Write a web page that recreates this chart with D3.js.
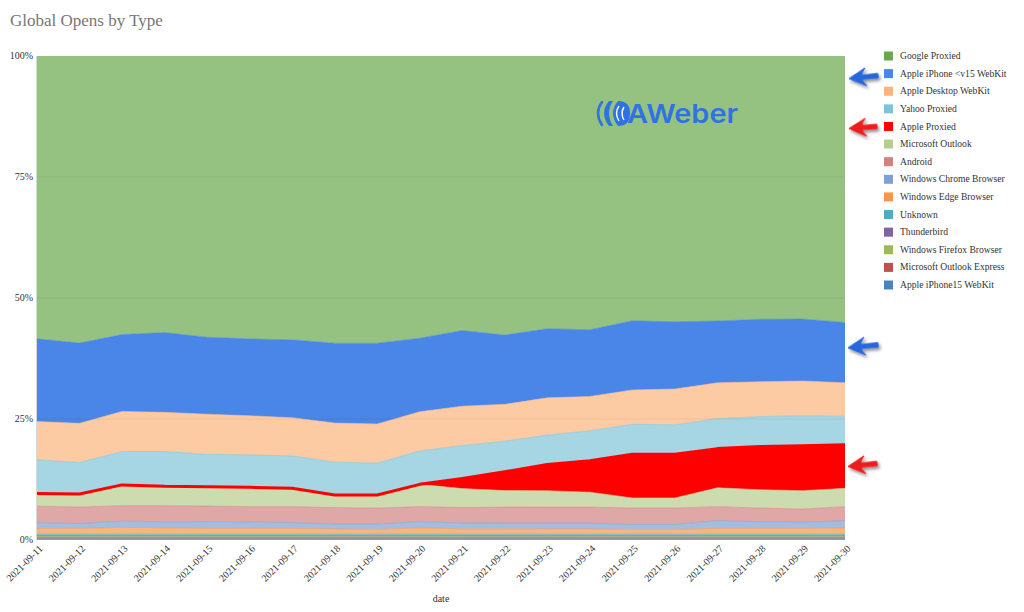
<!DOCTYPE html>
<html>
<head>
<meta charset="utf-8">
<script src="https://cdn.jsdelivr.net/npm/d3@7"></script>
<style>
  body { margin: 0; background: #fff; }
  svg text { font-family: "Liberation Serif", "DejaVu Serif", serif; }
</style>
</head>
<body>
<div id="chart"></div>
<script>
'use strict';

// ---------------------------------------------------------------
// data (percent of opens per day)
// ---------------------------------------------------------------
var dates = ["2021-09-11", "2021-09-12", "2021-09-13", "2021-09-14", "2021-09-15",
  "2021-09-16", "2021-09-17", "2021-09-18", "2021-09-19", "2021-09-20",
  "2021-09-21", "2021-09-22", "2021-09-23", "2021-09-24", "2021-09-25",
  "2021-09-26", "2021-09-27", "2021-09-28", "2021-09-29", "2021-09-30"];

var googleProxied   = [58.5, 59.3, 57.6, 57.2, 58.1, 58.5, 58.7, 59.4, 59.4, 58.3, 56.6, 57.6, 56.4, 56.6, 54.7, 54.9, 54.8, 54.4, 54.4, 55.1];
var iphoneV15       = [17.1, 16.6, 15.9, 16.5, 15.9, 15.9, 16.1, 16.5, 16.7, 15.2, 15.6, 14.3, 14.3, 13.8, 14.3, 13.9, 12.8, 12.9, 12.8, 12.5];
var desktopWebkit   = [7.9, 8.1, 8.3, 8.1, 8.3, 8.1, 7.9, 8.1, 8.1, 8.1, 8.1, 7.6, 7.7, 7.1, 7.1, 7.4, 7.4, 7.2, 7.2, 6.9];
var yahooProxied    = [7.0, 6.5, 6.9, 7.2, 6.7, 6.7, 6.7, 6.8, 6.6, 6.9, 6.8, 6.3, 6.1, 6.2, 6.2, 6.1, 6.2, 6.2, 6.2, 5.9];
var appleProxied    = [0, 0, 0, 0, 0, 0, 0, 0, 0, 0, 2.1, 3.9, 5.4, 6.5, 9.0, 9.0, 8.1, 8.9, 9.3, 9.0];
var msOutlook       = [2.6, 2.7, 4.3, 4.0, 4.0, 4.0, 3.8, 2.6, 2.7, 4.6, 3.9, 3.4, 3.4, 3.1, 2.1, 2.1, 3.9, 3.8, 3.8, 3.8];
var android         = [3.4, 3.4, 3.2, 3.3, 3.2, 3.2, 3.3, 3.4, 3.3, 3.1, 3.2, 3.3, 3.3, 3.3, 3.4, 3.4, 2.9, 2.8, 2.7, 2.9];
var chromeBrowser   = [1.2, 1.0, 1.3, 1.3, 1.4, 1.3, 1.2, 1.0, 1.1, 1.3, 1.2, 1.2, 1.2, 1.2, 1.0, 1.0, 1.6, 1.4, 1.3, 1.5];
var edgeBrowser     = [1.2, 1.2, 1.4, 1.3, 1.2, 1.2, 1.2, 1.1, 1.0, 1.3, 1.1, 1.1, 1.1, 1.1, 1.0, 1.0, 1.2, 1.2, 1.2, 1.3];
var unknown         = [0.3, 0.3, 0.3, 0.3, 0.3, 0.3, 0.3, 0.3, 0.3, 0.3, 0.3, 0.3, 0.3, 0.3, 0.3, 0.3, 0.3, 0.3, 0.3, 0.3];
var thunderbird     = [0.2, 0.2, 0.2, 0.2, 0.2, 0.2, 0.2, 0.2, 0.2, 0.2, 0.2, 0.2, 0.2, 0.2, 0.2, 0.2, 0.2, 0.2, 0.2, 0.2];
var firefoxBrowser  = [0.2, 0.2, 0.2, 0.2, 0.2, 0.2, 0.2, 0.2, 0.2, 0.2, 0.2, 0.2, 0.2, 0.2, 0.2, 0.2, 0.2, 0.2, 0.2, 0.2];
var outlookExpress  = [0.25, 0.25, 0.25, 0.25, 0.25, 0.25, 0.25, 0.25, 0.25, 0.25, 0.25, 0.25, 0.25, 0.25, 0.25, 0.25, 0.25, 0.25, 0.25, 0.25];
var iphone15        = [0.25, 0.25, 0.25, 0.25, 0.25, 0.25, 0.25, 0.25, 0.25, 0.25, 0.25, 0.25, 0.25, 0.25, 0.25, 0.25, 0.25, 0.25, 0.25, 0.25];

// legend order (top of the stack first)
var seriesNames = ["Google Proxied", "Apple iPhone <v15 WebKit", "Apple Desktop WebKit",
  "Yahoo Proxied", "Apple Proxied", "Microsoft Outlook", "Android",
  "Windows Chrome Browser", "Windows Edge Browser", "Unknown", "Thunderbird",
  "Windows Firefox Browser", "Microsoft Outlook Express", "Apple iPhone15 WebKit"];
var seriesValues = [googleProxied, iphoneV15, desktopWebkit, yahooProxied, appleProxied,
  msOutlook, android, chromeBrowser, edgeBrowser, unknown, thunderbird,
  firefoxBrowser, outlookExpress, iphone15];
var yTicks = [0, 0.25, 0.5, 0.75, 1];

// ---------------------------------------------------------------
// styles
// ---------------------------------------------------------------
var colors = ["#6aa84c", "#4a86e8", "#fbb57c", "#80c3d7", "#ff0000", "#b8cd8d", "#d38181",
  "#7ca1d3", "#f79646", "#4bacc6", "#8064a2", "#9bbb59", "#c0504d", "#4f81bd"];
var highlighted = ["Apple iPhone <v15 WebKit", "Apple Proxied"];

var W = 1024, H = 612;
var plotLeft = 37, plotRight = 845, plotTop = 56, plotBottom = 540;

// build rows for the stack
var rows = dates.map(function(d, i) {
  var row = { date: d };
  seriesNames.forEach(function(name, k) { row[name] = seriesValues[k][i]; });
  return row;
});

var stackKeys = seriesNames.slice().reverse(); // bottom of the stack first
var stacked = d3.stack()
  .keys(stackKeys)
  .order(d3.stackOrderNone)
  .offset(d3.stackOffsetExpand)(rows);

var color = d3.scaleOrdinal().domain(seriesNames).range(colors);

var x = d3.scalePoint().domain(dates).range([plotLeft, plotRight]);
var y = d3.scaleLinear().domain([0, 1]).range([plotBottom, plotTop]);

var svg = d3.select("#chart").append("svg")
  .attr("width", W)
  .attr("height", H);

var defs = svg.append("defs");
var shadow = defs.append("filter").attr("id", "shadow")
  .attr("x", "-30%").attr("y", "-30%").attr("width", "160%").attr("height", "180%");
shadow.append("feDropShadow")
  .attr("dx", 1.5).attr("dy", 2.5).attr("stdDeviation", 1.5)
  .attr("flood-color", "#000").attr("flood-opacity", 0.45);

// title
svg.append("text")
  .attr("x", 10)
  .attr("y", 26)
  .style("font-size", "17px")
  .style("fill", "#777")
  .text("Global Opens by Type");

// areas
var area = d3.area()
  .x(function(d) { return x(d.data.date); })
  .y0(function(d) { return y(d[0]); })
  .y1(function(d) { return y(d[1]); });

var topLine = d3.line()
  .x(function(d) { return x(d.data.date); })
  .y(function(d) { return y(d[1]); });

svg.append("g").selectAll("path")
  .data(stacked)
  .enter().append("path")
  .attr("d", area)
  .style("fill", function(s) { return color(s.key); })
  .style("fill-opacity", function(s) { return highlighted.indexOf(s.key) >= 0 ? 1 : 0.7; });

// thin edge on top of each layer
svg.append("g").selectAll("path")
  .data(stacked.filter(function(s) { return s.key !== "Google Proxied"; }))
  .enter().append("path")
  .attr("d", topLine)
  .style("fill", "none")
  .style("stroke", function(s) { return color(s.key); })
  .style("stroke-opacity", function(s) { return s.key === "Apple Proxied" ? 1 : 0.55; })
  .style("stroke-width", function(s) { return s.key === "Apple Proxied" ? 3 : 1; })
  .style("stroke-linejoin", "round");

// faint grid lines
svg.append("g").selectAll("line")
  .data(yTicks.filter(function(t) { return t > 0 && t < 1; }))
  .enter().append("line")
  .attr("x1", plotLeft).attr("x2", plotRight)
  .attr("y1", function(t) { return y(t); })
  .attr("y2", function(t) { return y(t); })
  .style("stroke", "#000")
  .style("stroke-opacity", 0.06);

// left edge of the plot
svg.append("line")
  .attr("x1", plotLeft - 0.5).attr("x2", plotLeft - 0.5)
  .attr("y1", plotTop).attr("y2", plotBottom)
  .style("stroke", "#d8d8d8");

// y axis labels
svg.append("g").selectAll("text")
  .data(yTicks)
  .enter().append("text")
  .attr("x", plotLeft - 4)
  .attr("y", function(t) { return y(t); })
  .attr("dy", "0.32em")
  .attr("text-anchor", "end")
  .style("font-size", "10px")
  .style("fill", "#333")
  .text(d3.format(".0%"));

// x axis labels
svg.append("g").selectAll("text")
  .data(dates)
  .enter().append("text")
  .attr("transform", function(d) { return "translate(" + (x(d) + 4) + "," + (plotBottom + 7) + ") rotate(-45)"; })
  .attr("text-anchor", "end")
  .attr("dy", "0.32em")
  .style("font-size", "10px")
  .style("fill", "#333")
  .text(function(d) { return d; });

svg.append("text")
  .attr("x", (plotLeft + plotRight) / 2)
  .attr("y", 602)
  .attr("text-anchor", "middle")
  .style("font-size", "10px")
  .style("fill", "#333")
  .text("date");

// legend
var legendY = d3.scalePoint().domain(seriesNames).range([56, 285]);
var legend = svg.append("g").selectAll("g")
  .data(seriesNames)
  .enter().append("g")
  .attr("transform", function(d) { return "translate(884," + legendY(d) + ")"; });

legend.append("rect")
  .attr("x", 0).attr("y", -4.5)
  .attr("width", 9).attr("height", 9)
  .style("fill", function(d) { return color(d); });

legend.append("text")
  .attr("x", 16)
  .attr("dy", "0.32em")
  .style("font-size", "9.6px")
  .style("fill", "#333")
  .text(function(d) { return d; });

// AWeber logo
var logo = svg.append("g").attr("transform", "translate(596,100)");
var logoBlue = "#2f72e2";
logo.append("path")
  .attr("d", "M6,2 Q-2,13 6,25")
  .style("fill", "none").style("stroke", logoBlue).style("stroke-width", 2.6)
  .style("stroke-linecap", "round");
logo.append("path")
  .attr("d", "M13,1 Q3,13 13,26 L17,26 Q9,13 17,1 Z")
  .style("fill", logoBlue);
logo.append("path")
  .attr("d", "M22,1 Q12,13 22,26 Q34,26 34,13 Q34,1 22,1 Z")
  .style("fill", logoBlue);
logo.append("path")
  .attr("d", "M23,6 Q18,13 23,21 M28,7 Q24,13 28,20")
  .style("fill", "none").style("stroke", "#fff").style("stroke-width", 1.4);
logo.append("text")
  .attr("x", 31)
  .attr("y", 23)
  .attr("textLength", 111)
  .attr("lengthAdjust", "spacingAndGlyphs")
  .style("font-family", "Inter, 'Open Sans', sans-serif")
  .style("font-weight", 600)
  .style("font-size", "26px")
  .style("fill", logoBlue)
  .text("AWeber");

// annotation arrows
function arrow(tipX, tipY, tailX, tailY, fill) {
  var ang = Math.atan2(tailY - tipY, tailX - tipX);
  var len = Math.hypot(tailX - tipX, tailY - tipY);
  var g = svg.append("g")
    .attr("transform", "translate(" + tipX + "," + tipY + ") rotate(" + (ang * 180 / Math.PI) + ")")
    .attr("filter", "url(#shadow)");
  g.append("path")
    .attr("d", "M0,0 L17,-9 Q13,-4 13,-2 L" + len + ",-2.2 L" + len + ",2.2 L13,2 Q13,4 17,9 Z")
    .style("fill", fill)
    .style("stroke", fill)
    .style("stroke-width", 1)
    .style("stroke-linejoin", "round");
}

var blueColor = "#2667dc", redColor = "#ee1c1c";
var lastIdx = dates.length - 1;
var blueLayer = stacked.filter(function(s) { return s.key === "Apple iPhone <v15 WebKit"; })[0][lastIdx];
var redLayer = stacked.filter(function(s) { return s.key === "Apple Proxied"; })[0][lastIdx];

arrow(849, legendY("Apple iPhone <v15 WebKit") + 5, 878, legendY("Apple iPhone <v15 WebKit") + 2, blueColor);
arrow(849, legendY("Apple Proxied") + 2, 877, legendY("Apple Proxied"), redColor);
arrow(plotRight + 3, y(blueLayer[1]) + (y(blueLayer[0]) - y(blueLayer[1])) * 0.42, 878,
  y(blueLayer[1]) + (y(blueLayer[0]) - y(blueLayer[1])) * 0.42 - 3, blueColor);
arrow(plotRight + 3, (y(redLayer[0]) + y(redLayer[1])) / 2, 877, (y(redLayer[0]) + y(redLayer[1])) / 2 - 3, redColor);
</script>
</body>
</html>
